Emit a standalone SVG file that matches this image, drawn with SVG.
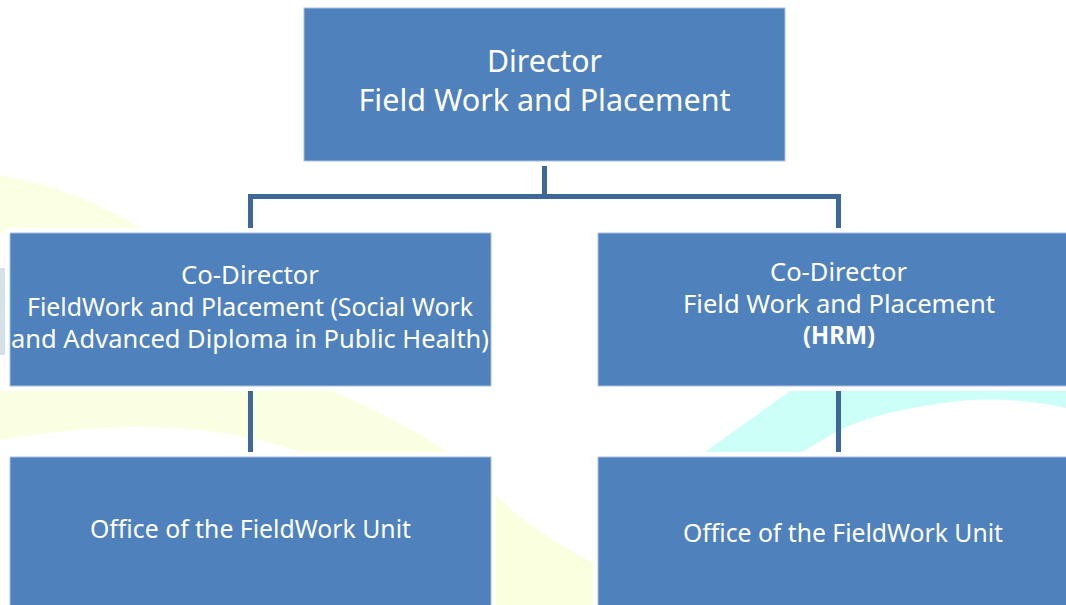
<svg xmlns="http://www.w3.org/2000/svg" width="1066" height="605" viewBox="0 0 1066 605">
  <style>
    .halo { fill: #ffffff; }
    .box { fill: #4F81BD; stroke: #A9C0DF; stroke-width: 1; }
    .conn { fill: none; stroke: #3D6899; stroke-width: 5; stroke-linejoin: miter; }
    .t { font-family: "Noto Sans", "DejaVu Sans", sans-serif; fill: #ffffff; text-anchor: middle; }
    .big { font-size: 30px; }
    .mid { font-size: 25px; }
    .b { font-weight: bold; }
  </style>
  <rect x="0" y="0" width="1066" height="605" fill="#ffffff"/>
  <g id="background">
    <path d="M0,175 Q70,185 150,233 L0,233 Z" fill="#FBFFE4"/>
    <rect x="0" y="268" width="10" height="87" fill="#D5E1E6"/>
    <path d="M0,391 L333,391 Q400,420 447,452 L300,452 Q220,425 130,427 Q60,429 0,440 Z" fill="#FAFFE2"/>
    <path d="M496,495 Q530,530 593,563 L593,605 L496,605 Z" fill="#FAFFE0"/>
    <path d="M705,452 L790,391 L1066,391 L1066,408 Q1010,396 960,401 Q880,410 840,430 Q818,442 803,452 Z" fill="#CCFFF8"/>
  </g>
  <g id="halos">
    <rect class="halo" x="299" y="3" width="491" height="163"/>
    <rect class="halo" x="5" y="228" width="491" height="163"/>
    <rect class="halo" x="593" y="228" width="491" height="163"/>
    <rect class="halo" x="5" y="452" width="491" height="160"/>
    <rect class="halo" x="593" y="452" width="491" height="160"/>
  </g>
  <g id="connectors">
    <line class="conn" x1="544.5" y1="166" x2="544.5" y2="196.5"/>
    <polyline class="conn" points="250.5,228 250.5,196.5 838.5,196.5 838.5,228"/>
    <line class="conn" x1="250.5" y1="391" x2="250.5" y2="452"/>
    <line class="conn" x1="838.5" y1="391" x2="838.5" y2="452"/>
  </g>
  <g id="director">
    <rect class="box" x="304" y="8" width="481" height="153"/>
    <text class="t big" x="544.5" y="72" textLength="115" lengthAdjust="spacingAndGlyphs">Director</text>
    <text class="t big" x="544.5" y="111" textLength="372" lengthAdjust="spacingAndGlyphs">Field Work and Placement</text>
  </g>
  <g id="codirector-sw">
    <rect class="box" x="10" y="233" width="481" height="153"/>
    <text class="t mid" x="250" y="284" textLength="138" lengthAdjust="spacingAndGlyphs">Co-Director</text>
    <text class="t mid" x="250" y="315.5" textLength="446" lengthAdjust="spacingAndGlyphs">FieldWork and Placement (Social Work</text>
    <text class="t mid" x="250" y="348" textLength="478" lengthAdjust="spacingAndGlyphs">and Advanced Diploma in Public Health)</text>
  </g>
  <g id="codirector-hrm">
    <rect class="box" x="598" y="233" width="481" height="153"/>
    <text class="t mid" x="838.5" y="281" textLength="137" lengthAdjust="spacingAndGlyphs">Co-Director</text>
    <text class="t mid" x="839" y="313" textLength="312" lengthAdjust="spacingAndGlyphs">Field Work and Placement</text>
    <text class="t mid b" x="839" y="344" textLength="72" lengthAdjust="spacingAndGlyphs">(HRM)</text>
  </g>
  <g id="office-sw">
    <rect class="box" x="10" y="457" width="481" height="160"/>
    <text class="t mid" x="250.5" y="538" textLength="321" lengthAdjust="spacingAndGlyphs">Office of the FieldWork Unit</text>
  </g>
  <g id="office-hrm">
    <rect class="box" x="598" y="457" width="481" height="160"/>
    <text class="t mid" x="843" y="542" textLength="320" lengthAdjust="spacingAndGlyphs">Office of the FieldWork Unit</text>
  </g>
</svg>
